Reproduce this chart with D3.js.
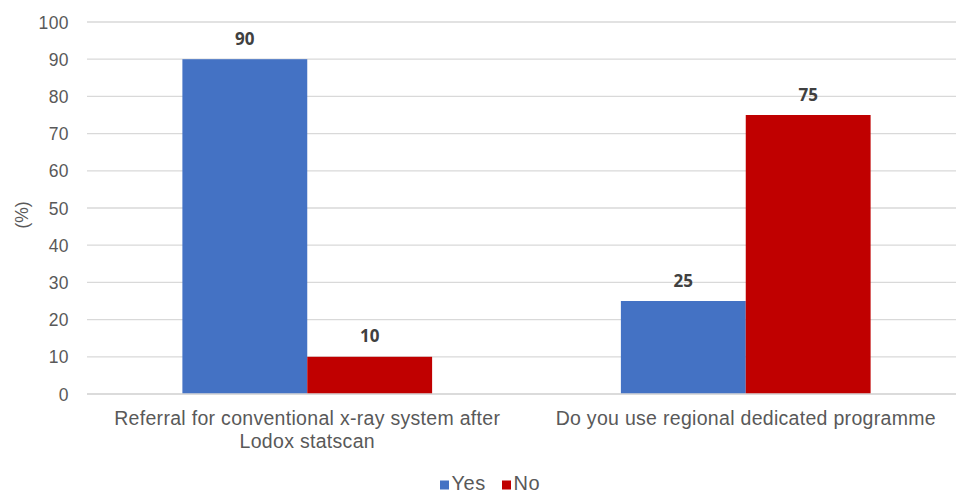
<!DOCTYPE html>
<html><head><meta charset="utf-8">
<script src="https://cdn.jsdelivr.net/npm/d3@7"></script>
<style>body{margin:0;background:#fff}svg{display:block}</style>
</head><body>
<svg id="c" width="956" height="493"></svg>
<script>
const categories = [["Referral for conventional x-ray system after", "Lodox statscan"], ["Do you use regional dedicated programme"]];
const seriesNames = ["Yes", "No"];
const yesValues = [90, 25];
const noValues = [10, 75];
const yTicks = [0, 10, 20, 30, 40, 50, 60, 70, 80, 90, 100];
const colors = ["#4472C4", "#C00000"];
const seriesValues = [yesValues, noValues];

const svg = d3.select("#c");
const font = "'Liberation Sans', Arial, sans-serif";
const x0 = d3.scaleBand().domain(d3.range(categories.length)).range([88, 965]).paddingInner(0).paddingOuter(0);
const x1 = d3.scaleBand().domain(seriesNames).range([0, x0.bandwidth()]).paddingInner(0).paddingOuter(0.756);
const y = d3.scaleLinear().domain([0, 100]).range([394, 22]);

// gridlines
svg.append("g").selectAll("line").data(yTicks).join("line")
  .attr("x1", 87).attr("x2", 956).attr("y1", d => y(d)).attr("y2", d => y(d))
  .attr("stroke", "#d9d9d9").attr("stroke-width", 1.3);

// y axis labels
const yAxis = d3.axisLeft(y).tickValues(yTicks).tickSize(0).tickPadding(0);
const ga = svg.append("g").attr("transform", "translate(69,0)").call(yAxis);
ga.select(".domain").remove();
ga.selectAll("text").attr("font-family", font).attr("font-size", 17.5).attr("letter-spacing", 0.4)
  .attr("fill", "#595959").attr("dy", "0.35em");

// y title
svg.append("text").attr("transform", "translate(28,215) rotate(-90)").attr("text-anchor", "middle")
  .attr("font-family", font).attr("font-size", 17.5).attr("fill", "#595959").text("(%)");

// bars
const groups = svg.append("g").selectAll("g").data(categories).join("g")
  .attr("transform", (d, i) => `translate(${x0(i)},0)`);
groups.each(function(d, i) {
  const g = d3.select(this);
  seriesNames.forEach((s, k) => {
    const v = seriesValues[k][i];
    g.append("rect").attr("x", x1(s)).attr("width", x1.bandwidth())
      .attr("y", y(v)).attr("height", y(0) - y(v)).attr("fill", colors[k]);
    g.append("text").attr("x", x1(s) + x1.bandwidth() / 2).attr("y", y(v) - 14.5)
      .attr("text-anchor", "middle").attr("font-family", "'Open Sans', sans-serif").attr("font-weight", "bold")
      .attr("font-size", 17).attr("fill", "#404040").text(v);
  });
  // category label
  const t = g.append("text").attr("text-anchor", "middle").attr("font-family", font)
    .attr("font-size", 19.5).attr("letter-spacing", 0.3).attr("fill", "#595959");
  d.forEach((line, li) => {
    t.append("tspan").attr("x", x0.bandwidth() / 2).attr("y", 425 + li * 23).text(line);
  });
});

// baseline
svg.append("line").attr("x1", 87).attr("x2", 956).attr("y1", y(0)).attr("y2", y(0))
  .attr("stroke", "#d9d9d9").attr("stroke-width", 1.3);

// legend
const legend = svg.append("g");
const lx = [440, 502];
seriesNames.forEach((s, k) => {
  legend.append("rect").attr("x", lx[k]).attr("y", 480.5).attr("width", 9).attr("height", 9).attr("fill", colors[k]);
  legend.append("text").attr("x", lx[k] + 11.5).attr("y", 490).attr("font-family", font)
    .attr("font-size", 20).attr("letter-spacing", 0.6).attr("fill", "#595959").text(s);
});
</script>
</body></html>
